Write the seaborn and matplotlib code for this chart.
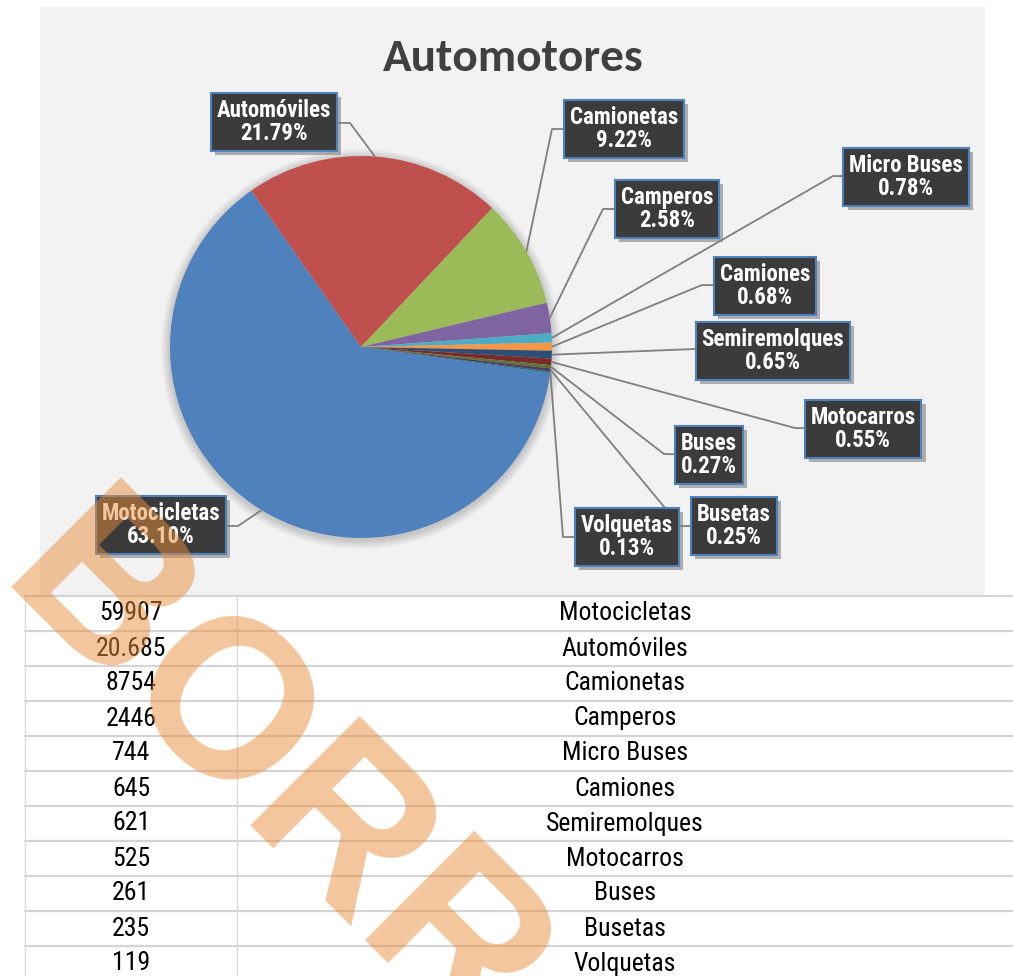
import os
import numpy as np
import matplotlib
matplotlib.use("Agg")
import matplotlib.pyplot as plt
from matplotlib import font_manager, patheffects
from matplotlib.font_manager import FontProperties
from matplotlib.patches import Rectangle, Circle
import seaborn as sns

# ---------------------------------------------------------------------------
# Datos
# ---------------------------------------------------------------------------
categorias = ["Motocicletas", "Automóviles", "Camionetas", "Camperos",
              "Micro Buses", "Camiones", "Semiremolques", "Motocarros",
              "Buses", "Busetas", "Volquetas"]
cantidades = [59907, 20685, 8754, 2446, 744, 645, 621, 525, 261, 235, 119]
cantidades_tabla = ["59907", "20.685", "8754", "2446", "744", "645",
                    "621", "525", "261", "235", "119"]
colores = ["#4F81BD", "#C0504D", "#9BBB59", "#8064A2", "#4BACC6", "#F79646",
           "#2C4D75", "#772C2A", "#5F7530", "#4D3B62", "#276A7C"]

# posiciones (pixeles) de las cajas de etiqueta y del codo de cada guia
caja_pos = {"Motocicletas": (161, 525), "Automóviles": (274, 122),
            "Camionetas": (624, 129), "Camperos": (667, 209),
            "Micro Buses": (906, 177), "Camiones": (765, 286),
            "Semiremolques": (773, 351), "Motocarros": (863, 429),
            "Buses": (709, 455), "Busetas": (734, 526),
            "Volquetas": (627, 537)}
codo = {"Motocicletas": (238, 526), "Automóviles": (350, 123),
        "Camionetas": (552, 129), "Camperos": (603, 209),
        "Micro Buses": (833, 176), "Camiones": (702, 285),
        "Semiremolques": (695, 349), "Motocarros": (795, 428),
        "Buses": (664, 454), "Busetas": (680, 526),
        "Volquetas": (563, 537)}


def pick_font(names, default="DejaVu Sans"):
    for n in names:
        try:
            font_manager.findfont(n, fallback_to_default=False)
            return n
        except ValueError:
            pass
    return default


def find_file(candidates):
    # busca un archivo de fuente estrecha/condensada instalado
    files = [f.fname for f in font_manager.fontManager.ttflist]
    for c in candidates:
        for fn in files:
            if os.path.basename(fn).lower().startswith(c.lower()):
                return fn
    return None


sns.set_theme(style="white")
titulo_font = pick_font(["Carlito", "Lato", "Open Sans"])
wm_font = pick_font(["Liberation Sans", "Arial"])
base_font = pick_font(["Liberation Sans", "Arial"])
plt.rcParams["font.family"] = [base_font, "DejaVu Sans"]

reg_file = find_file(["LiberationSansNarrow-Regular", "ArialNarrow.", "arialn.",
                      "RobotoCondensed-Regular", "NotoSans-Condensed.",
                      "DejaVuSansCondensed."])
bold_file = find_file(["LiberationSansNarrow-Bold.", "ArialNarrow-Bold", "arialnb",
                       "RobotoCondensed-Bold.", "NotoSans-CondensedBold.",
                       "DejaVuSansCondensed-Bold."])
if reg_file and bold_file:
    fp_tabla = FontProperties(fname=reg_file, size=18.5)
    fp_etiq = FontProperties(fname=bold_file, size=16.5)
else:
    fp_tabla = FontProperties(family=base_font, size=17)
    fp_etiq = FontProperties(family=base_font, weight="bold", size=13.5)

W, H = 1013, 976
fig = plt.figure(figsize=(W / 100, H / 100), dpi=100)
ax = fig.add_axes([0, 0, 1, 1])
paleta = sns.color_palette(colores)

# fondo del area del grafico
ax.add_patch(Rectangle((40, 7), 945, 588, facecolor="#F2F2F2", edgecolor="none", zorder=0))

# sombra suave del pastel
cx, cy, r = 361, 347, 191
for k in range(1, 10):
    ax.add_patch(Circle((cx, cy + 2), r + k, facecolor="black", edgecolor="none",
                        alpha=0.02, zorder=1))

wedges, _ = ax.pie(cantidades, colors=paleta, startangle=7.8, counterclock=True,
                   center=(cx, cy), radius=r, wedgeprops=dict(linewidth=0, zorder=2))

ax.set_xlim(0, W)
ax.set_ylim(H, 0)
ax.set_aspect("equal", adjustable="box")
ax.axis("off")

total = sum(cantidades)
for w, cat, val in zip(wedges, categorias, cantidades):
    ang = np.deg2rad((w.theta1 + w.theta2) / 2)
    px, py = cx + r * np.cos(ang), cy + r * np.sin(ang)
    bx, by = caja_pos[cat]
    ex, ey = codo[cat]
    ax.plot([px, ex, bx], [py, ey, by], color="#7F7F7F", lw=1.3, zorder=3,
            solid_capstyle="butt")
    t = ax.text(bx, by, f"{cat}\n{val / total * 100:.2f}%", ha="center", va="center",
                color="white", fontproperties=fp_etiq, linespacing=1.0,
                zorder=6,
                bbox=dict(boxstyle="square,pad=0.25", facecolor="#3B3B3B",
                          edgecolor="#4F81BD", linewidth=1.5))
    t.get_bbox_patch().set_path_effects([
        patheffects.SimplePatchShadow(offset=(3, -3), shadow_rgbFace="#808080", alpha=0.6),
        patheffects.Normal()])

ax.text(513, 58, "Automotores", ha="center", va="center", fontsize=34,
        fontweight="bold", color="#404040", family=[titulo_font, "DejaVu Sans"], zorder=6)

# tabla
y0, alto = 596, 35
for i in range(len(categorias) + 1):
    y = y0 + alto * i
    ax.plot([25, W], [y, y], color="#D4D4D4", lw=1.6, zorder=4)
for x in (25, 237):
    ax.plot([x, x], [y0, H], color="#D9D9D9", lw=0.9, zorder=4)
for i, (num, cat) in enumerate(zip(cantidades_tabla, categorias)):
    yc = y0 + alto * (i + 0.5)
    ax.text(131, yc, num, ha="center", va="center", fontproperties=fp_tabla,
            color="black", zorder=5)
    ax.text(625, yc, cat, ha="center", va="center", fontproperties=fp_tabla,
            color="black", zorder=5)

# marca de agua
ax.text(505, 1014, "BORRADOR", ha="center", va="center", rotation=-45,
        rotation_mode="anchor", fontsize=162, fontweight="bold",
        color="#E98D3B", alpha=0.5, family=[wm_font, "DejaVu Sans"],
        zorder=10, clip_on=False)

fig.savefig("out.png", dpi=100)
